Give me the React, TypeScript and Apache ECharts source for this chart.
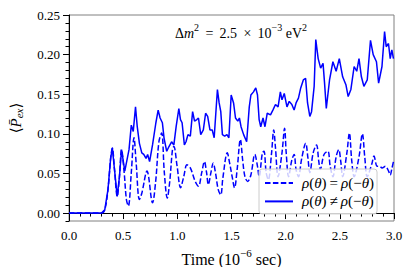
import React, { useEffect, useRef } from "react";
import * as echarts from "echarts";

// ρ(θ) ≠ ρ(−θ)  (solid)
const solidSeries: [number, number][] = [
  [0, 0], [0.3, 0], [0.33, 0.004], [0.36, 0.03], [0.385, 0.07], [0.4, 0.082], [0.42, 0.055],
  [0.445, 0.021], [0.465, 0.045], [0.485, 0.08], [0.515, 0.053], [0.554, 0.08], [0.575, 0.111],
  [0.593, 0.103], [0.614, 0.134], [0.63, 0.109], [0.65, 0.088], [0.672, 0.076], [0.69, 0.074],
  [0.711, 0.069], [0.726, 0.074], [0.744, 0.065], [0.771, 0.086], [0.802, 0.114], [0.823, 0.13],
  [0.841, 0.12], [0.862, 0.114], [0.877, 0.095], [0.902, 0.078], [0.923, 0.084], [0.947, 0.09],
  [0.968, 0.086], [0.989, 0.109], [1.014, 0.132], [1.029, 0.118], [1.044, 0.114], [1.065, 0.086],
  [1.08, 0.09], [1.098, 0.099], [1.12, 0.097], [1.141, 0.128], [1.159, 0.116], [1.18, 0.118],
  [1.195, 0.12], [1.216, 0.099], [1.24, 0.105], [1.261, 0.126], [1.28, 0.122], [1.301, 0.105],
  [1.322, 0.105], [1.34, 0.095], [1.37, 0.156], [1.386, 0.139], [1.401, 0.128], [1.416, 0.099],
  [1.437, 0.097], [1.458, 0.099], [1.476, 0.095], [1.497, 0.149], [1.519, 0.139], [1.537, 0.12],
  [1.558, 0.116], [1.573, 0.12], [1.588, 0.109], [1.612, 0.099], [1.64, 0.09], [1.664, 0.134],
  [1.679, 0.149], [1.703, 0.153], [1.724, 0.158], [1.74, 0.149], [1.755, 0.118], [1.77, 0.109],
  [1.791, 0.12], [1.809, 0.109], [1.83, 0.126], [1.86, 0.124], [1.882, 0.13], [1.906, 0.137],
  [1.93, 0.134], [1.951, 0.153], [1.966, 0.143], [1.987, 0.151], [2.012, 0.134], [2.033, 0.141],
  [2.057, 0.137], [2.078, 0.13], [2.096, 0.139], [2.118, 0.145], [2.139, 0.158], [2.163, 0.168],
  [2.184, 0.17], [2.202, 0.139], [2.223, 0.122], [2.239, 0.128], [2.263, 0.16], [2.278, 0.219],
  [2.3, 0.195], [2.323, 0.183], [2.345, 0.189], [2.359, 0.164], [2.375, 0.132], [2.405, 0.168],
  [2.436, 0.191], [2.466, 0.179], [2.495, 0.195], [2.526, 0.172], [2.556, 0.162], [2.577, 0.147],
  [2.602, 0.156], [2.632, 0.185], [2.656, 0.179], [2.677, 0.195], [2.699, 0.172], [2.722, 0.16],
  [2.753, 0.168], [2.783, 0.218], [2.808, 0.2], [2.838, 0.191], [2.858, 0.164], [2.889, 0.185],
  [2.913, 0.229], [2.928, 0.21], [2.949, 0.214], [2.965, 0.195], [2.98, 0.206], [2.995, 0.195],
];

// ρ(θ) = ρ(−θ)  (dashed)
const dashedSeries: [number, number][] = [
  [0, 0], [0.3, 0], [0.33, 0.004], [0.36, 0.03], [0.385, 0.07], [0.4, 0.082], [0.42, 0.055],
  [0.445, 0.021], [0.465, 0.045], [0.485, 0.08], [0.51, 0.05], [0.53, 0.017], [0.548, 0.009],
  [0.575, 0.051], [0.6, 0.095], [0.62, 0.063], [0.65, 0.017], [0.672, 0.025], [0.72, 0.053],
  [0.771, 0.013], [0.8, 0.04], [0.83, 0.09], [0.855, 0.101], [0.88, 0.051], [0.907, 0.019],
  [0.93, 0.04], [0.955, 0.08], [0.968, 0.084], [0.998, 0.059], [1.03, 0.032], [1.059, 0.046],
  [1.089, 0.061], [1.12, 0.057], [1.165, 0.04], [1.195, 0.034], [1.225, 0.051], [1.25, 0.065],
  [1.27, 0.051], [1.286, 0.036], [1.31, 0.051], [1.331, 0.063], [1.352, 0.051], [1.377, 0.03],
  [1.401, 0.023], [1.42, 0.044], [1.461, 0.076], [1.483, 0.063], [1.506, 0.046], [1.528, 0.032],
  [1.552, 0.055], [1.582, 0.093], [1.603, 0.067], [1.624, 0.046], [1.649, 0.04], [1.679, 0.048],
  [1.715, 0.074], [1.74, 0.059], [1.755, 0.046], [1.785, 0.076], [1.8, 0.078], [1.82, 0.051],
  [1.84, 0.042], [1.87, 0.076], [1.89, 0.105], [1.905, 0.084], [1.93, 0.046], [1.966, 0.076],
  [1.99, 0.107], [2.005, 0.076], [2.027, 0.046], [2.057, 0.067], [2.078, 0.074], [2.096, 0.055],
  [2.118, 0.046], [2.148, 0.069], [2.185, 0.088], [2.205, 0.07], [2.223, 0.051], [2.254, 0.076],
  [2.285, 0.086], [2.305, 0.066], [2.32, 0.055], [2.354, 0.074], [2.39, 0.078], [2.41, 0.06],
  [2.436, 0.046], [2.466, 0.071], [2.49, 0.08], [2.508, 0.066], [2.526, 0.046], [2.565, 0.076],
  [2.588, 0.101], [2.61, 0.066], [2.632, 0.046], [2.677, 0.071], [2.708, 0.1], [2.73, 0.071],
  [2.753, 0.046], [2.797, 0.063], [2.815, 0.072], [2.845, 0.059], [2.868, 0.059], [2.89, 0.057],
  [2.92, 0.059], [2.95, 0.053], [2.965, 0.048], [2.98, 0.056], [2.995, 0.065],
];

const seriesNames = ["ρ(θ) = ρ(−θ)", "ρ(θ) ≠ ρ(−θ)"];
const legendRich = [
  "{i|ρ}({i|θ})\u2009=\u2009{i|ρ}(−{i|θ})",
  "{i|ρ}({i|θ})\u2009≠\u2009{i|ρ}(−{i|θ})",
];
const xTicks = { min: 0, max: 3, interval: 0.5 };
const yMajorTicks = [0, 0.05, 0.1, 0.15, 0.2, 0.25];
const yRange = { min: -0.01, max: 0.25 };

const FONT = "'Liberation Serif', 'DejaVu Serif', serif";
const BLUE = "#0000ff";

export default function App() {
  const ref = useRef<HTMLDivElement>(null);
  useEffect(() => {
    if (!ref.current) return;
    const chart = echarts.init(ref.current, undefined, { renderer: "svg" });
    chart.setOption({
      animation: false,
      backgroundColor: "#fff",
      grid: {
        left: 63,
        right: 19,
        top: 15,
        bottom: 54,
        show: true,
        borderColor: "#808080",
        borderWidth: 1,
        backgroundColor: "transparent",
      },
      legend: {
        data: seriesNames,
        orient: "vertical",
        left: 259,
        top: 169,
        itemWidth: 28,
        itemHeight: 14,
        itemGap: 1.4,
        padding: [5.5, 3, 4, 5],
        backgroundColor: "rgba(255,255,255,0.8)",
        borderColor: "#cccccc",
        borderWidth: 1,
        borderRadius: 3,
        itemStyle: { opacity: 0 },
        formatter: (name: string) => legendRich[seriesNames.indexOf(name)],
        textStyle: {
          fontFamily: FONT,
          fontSize: 15,
          color: "#000",
          lineHeight: 17,
          padding: [0, 0, 0, 4],
          rich: { i: { fontStyle: "italic", fontFamily: FONT, fontSize: 15, color: "#000", lineHeight: 17 } },
        },
      },
      xAxis: {
        type: "value",
        min: xTicks.min,
        max: xTicks.max,
        interval: xTicks.interval,
        name: "{n|Time (10}{sup|−6}{n| sec)}",
        nameLocation: "middle",
        nameGap: 26,
        nameTextStyle: {
          fontFamily: FONT,
          fontSize: 16,
          color: "#000",
          rich: {
            n: { fontFamily: FONT, fontSize: 16, color: "#000", lineHeight: 20, verticalAlign: "bottom" },
            sup: { fontFamily: FONT, fontSize: 11, color: "#000", lineHeight: 12, verticalAlign: "top" },
          },
        },
        axisLine: { show: true, lineStyle: { color: "#000", width: 1 } },
        axisTick: { show: true, inside: false, length: 6, lineStyle: { color: "#000" } },
        minorTick: { show: true, splitNumber: 5, length: 3.5, lineStyle: { color: "#000" } },
        axisLabel: {
          fontFamily: FONT,
          fontSize: 13,
          color: "#000",
          margin: 8,
          formatter: (v: number) => v.toFixed(1),
        },
        splitLine: { show: false },
        minorSplitLine: { show: false },
      },
      yAxis: [
        {
          type: "value",
          min: yRange.min,
          max: yRange.max,
          interval: 0.01,
          position: "left",
          axisLine: { show: true, lineStyle: { color: "#000", width: 1 } },
          axisTick: { show: true, inside: false, length: 3.5, lineStyle: { color: "#000" } },
          axisLabel: { show: false },
          splitLine: { show: false },
        },
        {
          type: "value",
          min: yRange.min,
          max: yRange.max,
          position: "left",
          name: "⟨{i|P\u0304}{s|ex}⟩",
          nameLocation: "middle",
          nameRotate: 90,
          nameGap: 45,
          nameTextStyle: {
            fontFamily: FONT,
            fontSize: 15,
            color: "#000",
            rich: {
              i: { fontStyle: "italic", fontFamily: FONT, fontSize: 15, color: "#000" },
              s: {
                fontStyle: "italic",
                fontFamily: FONT,
                fontSize: 11,
                color: "#000",
                padding: [6, 0, 0, 0],
              },
            },
          },
          axisLine: { show: false },
          axisTick: {
            show: true,
            inside: false,
            length: 6,
            customValues: yMajorTicks,
            lineStyle: { color: "#000" },
          },
          axisLabel: {
            fontFamily: FONT,
            fontSize: 13,
            color: "#000",
            margin: 9,
            customValues: yMajorTicks,
            formatter: (v: number) => v.toFixed(2),
          },
          splitLine: { show: false },
        },
      ],
      graphic: [
        {
          type: "text",
          x: 175,
          y: 31,
          z: 10,
          style: {
            text: "{n|Δ}{i|m}{sup|2}{n| \u2009=\u2009 2.5 \u2009×\u2009 10}{sup|−3}{n| eV}{sup|2}",
            fontFamily: FONT,
            fontSize: 14,
            fill: "#000",
            verticalAlign: "middle",
            rich: {
              n: { fontFamily: FONT, fontSize: 14, fill: "#000", lineHeight: 18, verticalAlign: "bottom" },
              i: { fontStyle: "italic", fontFamily: FONT, fontSize: 14, fill: "#000", lineHeight: 18, verticalAlign: "bottom" },
              sup: { fontFamily: FONT, fontSize: 10, fill: "#000", lineHeight: 11, verticalAlign: "top" },
            },
          },
        },
      ],
      series: [
        {
          name: seriesNames[0],
          type: "line",
          data: dashedSeries,
          symbol: "none",
          smooth: 0.35,
          yAxisIndex: 0,
          lineStyle: { color: BLUE, width: 1.5, type: [5.5, 2.4] },
          itemStyle: { color: BLUE },
        },
        {
          name: seriesNames[1],
          type: "line",
          data: solidSeries,
          symbol: "none",
          yAxisIndex: 0,
          lineStyle: { color: BLUE, width: 1.5 },
          itemStyle: { color: BLUE },
        },
      ],
    });
    return () => chart.dispose();
  }, []);
  return <div ref={ref} style={{ width: 413, height: 275, margin: -8 }} />;
}
